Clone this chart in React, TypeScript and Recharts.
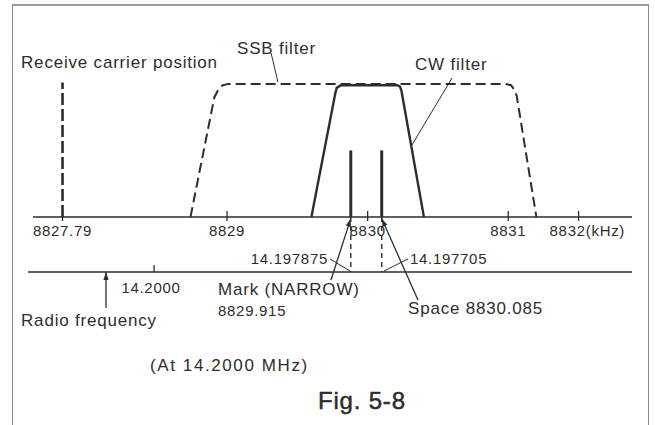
import { ComposedChart, Line, XAxis, YAxis, ReferenceLine, ReferenceDot } from 'recharts'

const SANS = '"Liberation Sans", Arial, Helvetica, sans-serif'
const INK = '#2d2d2d'

// upper scale: IF in kHz. positions as drawn (the figure is not to scale at the ends)
const tickPos = [8827.83, 8829, 8830, 8831, 8831.5]
const tickLabels = ['8827.79', '8829', '8830', '8831', '8832(kHz)']

// relative level: 0 = IF axis, 100 = top of passband
const carrierKHz = [8827.83, 8827.83]
const carrierLevel = [0, 101]

const ssbKHz = [8828.74, 8828.91, 8828.94, 8828.97, 8829.01, 8830.98, 8831.02, 8831.04, 8831.06, 8831.2]
const ssbLevel = [0, 90, 96, 99, 100, 100, 99, 96, 91, 0]

const cwKHz = [8829.6, 8829.77, 8829.78, 8829.81, 8830.21, 8830.23, 8830.24, 8830.4]
const cwLevel = [0, 93, 97, 99, 99, 98, 95, 0]

const markKHz = 8829.88
const spaceKHz = 8830.1
const toneLevel = 50

// lower scale (radio frequency)
const rfLevel = -41.3
const rfStart = 8827.584
const rfEnd = 8831.88
const rfTickAt = 8828.481
const rfArrowAt = 8828.139

const pts = (xs: number[], ys: number[]) => xs.map((khz, i) => ({ khz, level: ys[i] }))

const carrierData = pts(carrierKHz, carrierLevel)
const ssbData = pts(ssbKHz, ssbLevel)
const cwData = pts(cwKHz, cwLevel)
const markData = pts([markKHz, markKHz], [0, toneLevel])
const spaceData = pts([spaceKHz, spaceKHz], [0, toneLevel])

type Note = {
  text: string
  x: number
  y: number
  kind: 'label' | 'num' | 'fig'
  anchor?: 'start' | 'middle' | 'end'
  spacing?: number
}

const notes: Note[] = [
  { text: 'Receive carrier position', x: 8827.535, y: 116.4, kind: 'label' },
  { text: 'SSB filter', x: 8829.071, y: 126.9, kind: 'label' },
  { text: 'CW filter', x: 8830.337, y: 114.2, kind: 'label' },
  { text: '14.2000', x: 8828.459, y: -53.3, kind: 'num', anchor: 'middle' },
  { text: '14.197875', x: 8829.718, y: -30.8, kind: 'num', anchor: 'end' },
  { text: '14.197705', x: 8830.301, y: -30.8, kind: 'num' },
  { text: 'Mark (NARROW)', x: 8828.936, y: -54.8, kind: 'label' },
  { text: '8829.915', x: 8828.936, y: -70.6, kind: 'num' },
  { text: 'Radio frequency', x: 8827.535, y: -78.1, kind: 'label' },
  { text: 'Space 8830.085', x: 8830.287, y: -68.4, kind: 'label' },
  { text: '(At 14.2000 MHz)', x: 8828.452, y: -111.9, kind: 'label', spacing: 1.6 },
  { text: 'Fig. 5-8', x: 8829.647, y: -137.5, kind: 'fig' },
]

type Seg = { a: [number, number]; b: [number, number]; arrow?: boolean; dash?: string; w?: number }

const leaders: Seg[] = [
  { a: [8829.313, 123.2], b: [8829.362, 101.4] },
  { a: [8830.6, 104.4], b: [8830.315, 54.1] },
  { a: [8829.732, -31.5], b: [8829.875, -40.6] },
  { a: [8830.287, -31.5], b: [8830.116, -40.6] },
  { a: [8829.739, -47.3], b: [markKHz, -1.2], arrow: true, w: 1.3 },
  { a: [8830.358, -62.3], b: [spaceKHz, -1.2], arrow: true, w: 1.3 },
  { a: [rfArrowAt, -68.4], b: [rfArrowAt, rfLevel], arrow: true, w: 1.3 },
  { a: [markKHz, 0], b: [markKHz, rfLevel], dash: '5 4', w: 1.4 },
  { a: [spaceKHz, 0], b: [spaceKHz, rfLevel], dash: '5 4', w: 1.4 },
  { a: [rfStart, rfLevel], b: [rfEnd, rfLevel], w: 1.6 },
  { a: [rfTickAt, -36.1], b: [rfTickAt, rfLevel], w: 1.3 },
]

const textStyle = (kind: Note['kind'], spacing?: number) => {
  if (kind === 'num') return { fontFamily: SANS, fontSize: 15, letterSpacing: spacing ?? 0.7 }
  if (kind === 'fig') return { fontFamily: SANS, fontSize: 24, letterSpacing: spacing ?? 0.8 }
  return { fontFamily: SANS, fontSize: 17, letterSpacing: spacing ?? 0.8 }
}

function IfTick(props: any) {
  const { x, y, payload } = props
  const i = tickPos.indexOf(payload.value)
  const label = tickLabels[i]
  const wide = label.includes('(')
  return (
    <g>
      <line x1={x} x2={x} y1={i === 0 ? y : y - 6} y2={y + 4} stroke={INK} strokeWidth={1.3} />
      <text
        x={wide ? x - 29 : x}
        y={y + 13}
        textAnchor={wide ? 'start' : 'middle'}
        dominantBaseline="central"
        fill={INK}
        style={textStyle('num')}
      >
        {label}
      </text>
    </g>
  )
}

function segShape(seg: Seg) {
  return (p: any) => {
    const { x1, y1, x2, y2 } = p
    let head = null
    if (seg.arrow) {
      const dx = x2 - x1
      const dy = y2 - y1
      const len = Math.hypot(dx, dy) || 1
      const ux = dx / len
      const uy = dy / len
      const bx = x2 - ux * 8
      const by = y2 - uy * 8
      head = (
        <polygon
          points={`${x2},${y2} ${bx - uy * 2.6},${by + ux * 2.6} ${bx + uy * 2.6},${by - ux * 2.6}`}
          fill={INK}
        />
      )
    }
    return (
      <g>
        <line x1={x1} y1={y1} x2={x2} y2={y2} stroke={INK} strokeWidth={seg.w ?? 1} strokeDasharray={seg.dash} />
        {head}
      </g>
    )
  }
}

export default function App() {
  return (
    <div style={{ position: 'absolute', left: 0, top: 0, width: 655, height: 425, background: '#fff', overflow: 'hidden' }}>
      <div
        style={{
          position: 'absolute',
          left: 12,
          top: 4,
          width: 635,
          height: 440,
          borderLeft: '1.5px solid #8c8c8c',
          borderRight: '1.5px solid #8c8c8c',
          borderTop: '2px solid #9a9a9a',
        }}
      />
      <ComposedChart width={655} height={425} margin={{ top: 4, right: 23, bottom: 188, left: 33 }} style={{ position: 'absolute', left: 0, top: 0 }}>
        <XAxis
          dataKey="khz"
          type="number"
          domain={[8827.62, 8831.88]}
          ticks={tickPos}
          interval={0}
          height={20}
          tickSize={0}
          tickMargin={0}
          tickLine={false}
          axisLine={{ stroke: INK, strokeWidth: 1.6 }}
          tick={<IfTick />}
        />
        <YAxis type="number" domain={[0, 160]} hide />
        <Line data={carrierData} dataKey="level" type="linear" stroke={INK} strokeWidth={2.6} strokeDasharray="12 4" dot={false} isAnimationActive={false} />
        <Line data={ssbData} dataKey="level" type="linear" stroke={INK} strokeWidth={2} strokeDasharray="10 5" dot={false} isAnimationActive={false} />
        <Line data={cwData} dataKey="level" type="linear" stroke={INK} strokeWidth={2.4} dot={false} isAnimationActive={false} />
        <Line data={markData} dataKey="level" type="linear" stroke={INK} strokeWidth={3} dot={false} isAnimationActive={false} />
        <Line data={spaceData} dataKey="level" type="linear" stroke={INK} strokeWidth={3} dot={false} isAnimationActive={false} />
        {leaders.map((s, i) => (
          <ReferenceLine
            key={`l${i}`}
            segment={[{ x: s.a[0], y: s.a[1] }, { x: s.b[0], y: s.b[1] }]}
            ifOverflow="visible"
            shape={segShape(s)}
          />
        ))}
        {notes.map((n, i) => (
          <ReferenceDot
            key={`n${i}`}
            x={n.x}
            y={n.y}
            r={0}
            ifOverflow="visible"
            shape={(p: any) => (
              <text
                x={p.cx}
                y={p.cy}
                textAnchor={n.anchor ?? 'start'}
                dominantBaseline="central"
                fill={INK}
                stroke={n.kind === 'fig' ? INK : undefined}
                strokeWidth={n.kind === 'fig' ? 0.5 : undefined}
                style={textStyle(n.kind, n.spacing)}
              >
                {n.text}
              </text>
            )}
          />
        ))}
      </ComposedChart>
    </div>
  )
}
